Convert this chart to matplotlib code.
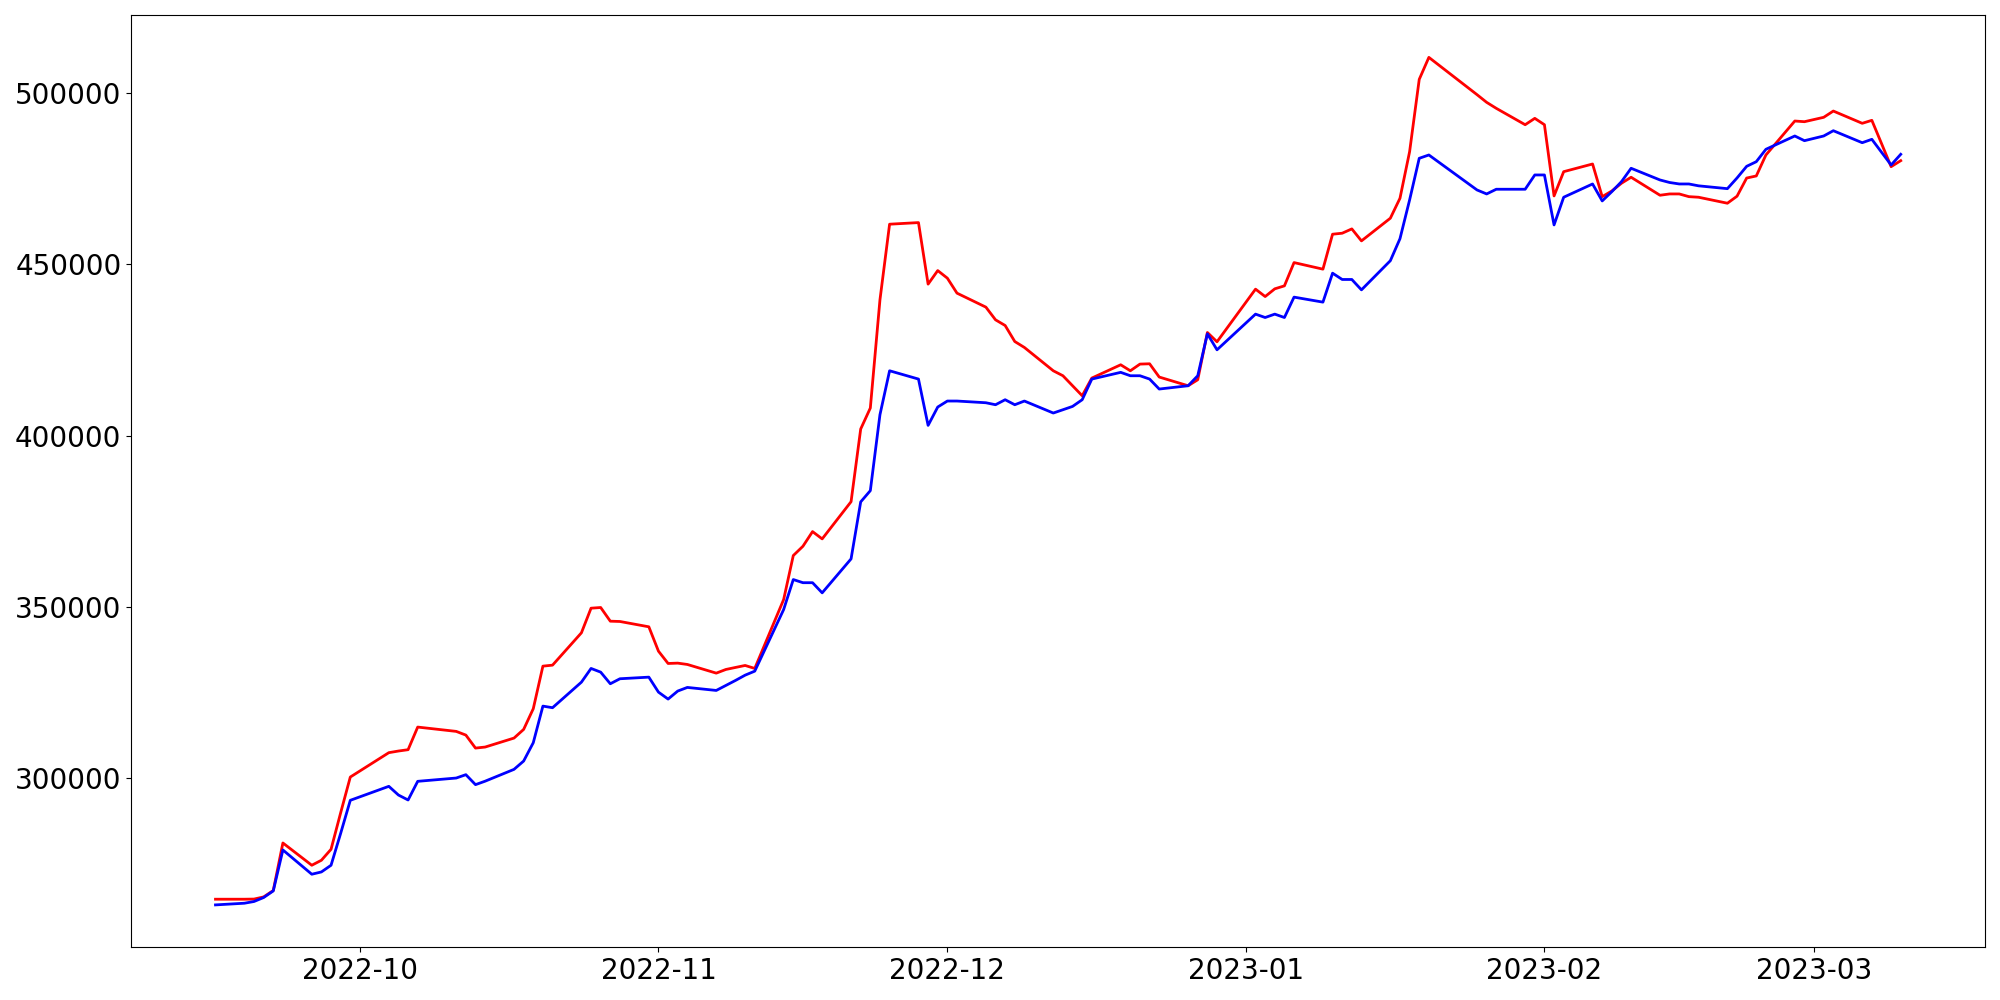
import matplotlib
matplotlib.use('Agg')
import matplotlib.pyplot as plt
import pandas as pd

# trading days (KRX calendar), Sep 2022 - Mar 2023
days_sep = ['2022-09-16', '2022-09-19', '2022-09-20', '2022-09-21', '2022-09-22', '2022-09-23',
            '2022-09-26', '2022-09-27', '2022-09-28', '2022-09-29', '2022-09-30']
days_oct = ['2022-10-04', '2022-10-05', '2022-10-06', '2022-10-07', '2022-10-11', '2022-10-12',
            '2022-10-13', '2022-10-14', '2022-10-17', '2022-10-18', '2022-10-19', '2022-10-20',
            '2022-10-21', '2022-10-24', '2022-10-25', '2022-10-26', '2022-10-27', '2022-10-28',
            '2022-10-31']
days_nov = ['2022-11-01', '2022-11-02', '2022-11-03', '2022-11-04', '2022-11-07', '2022-11-08',
            '2022-11-09', '2022-11-10', '2022-11-11', '2022-11-14', '2022-11-15', '2022-11-16',
            '2022-11-17', '2022-11-18', '2022-11-21', '2022-11-22', '2022-11-23', '2022-11-24',
            '2022-11-25', '2022-11-28', '2022-11-29', '2022-11-30']
days_dec = ['2022-12-01', '2022-12-02', '2022-12-05', '2022-12-06', '2022-12-07', '2022-12-08',
            '2022-12-09', '2022-12-12', '2022-12-13', '2022-12-14', '2022-12-15', '2022-12-16',
            '2022-12-19', '2022-12-20', '2022-12-21', '2022-12-22', '2022-12-23', '2022-12-26',
            '2022-12-27', '2022-12-28', '2022-12-29']
days_jan = ['2023-01-02', '2023-01-03', '2023-01-04', '2023-01-05', '2023-01-06', '2023-01-09',
            '2023-01-10', '2023-01-11', '2023-01-12', '2023-01-13', '2023-01-16', '2023-01-17',
            '2023-01-18', '2023-01-19', '2023-01-20', '2023-01-25', '2023-01-26', '2023-01-27',
            '2023-01-30', '2023-01-31']
days_feb = ['2023-02-01', '2023-02-02', '2023-02-03', '2023-02-06', '2023-02-07', '2023-02-08',
            '2023-02-09', '2023-02-10', '2023-02-13', '2023-02-14', '2023-02-15', '2023-02-16',
            '2023-02-17', '2023-02-20', '2023-02-21', '2023-02-22', '2023-02-23', '2023-02-24',
            '2023-02-27', '2023-02-28']
days_mar = ['2023-03-02', '2023-03-03', '2023-03-06', '2023-03-07', '2023-03-08', '2023-03-09',
            '2023-03-10']

red_vals = [
    264760, 264760, 264800, 265430, 267300, 281170, 274670, 276130, 279330, 290000, 300410,
    307520, 308000, 308390, 314990, 313730, 312650, 308860, 309160, 311780, 314310, 320350,
    332770, 333060, 342500, 349680, 349880, 345890, 345800, 344250,
    337140, 333550, 333650, 333260, 330730, 331800, 332390, 332970, 332100, 352210, 365040,
    367750, 372030, 369900, 380760, 401970, 408090, 439660, 461730, 462200, 444240, 448200,
    445980, 441610, 437530, 433830, 432170, 427500, 425760, 418960, 417510, 414590, 411680,
    416830, 420710, 418960, 420910, 421000, 417130, 414590, 416340, 430130, 427420,
    442780, 440620, 442870, 443740, 450530, 448610, 458810, 459100, 460360, 456860, 463480,
    469300, 482890, 503990, 510410, 499530, 497290, 495540, 490760, 492620,
    490760, 469980, 477060, 479300, 469770, 471430, 473680, 475430, 470180, 470560, 470560,
    469770, 469600, 467850, 469900, 475200, 475810, 481930, 491840, 491640,
    492920, 494750, 491170, 492040, 485300, 478520, 480270,
]

blue_vals = [
    263100, 263590, 264090, 265250, 267180, 279130, 272050, 272720, 274670, 284000, 293620,
    297700, 295160, 293710, 299160, 300120, 301100, 298190, 299200, 302650, 305080, 310430,
    321110, 320640, 328100, 332100, 331020, 327630, 329090, 329560,
    325190, 323160, 325500, 326560, 325680, 327140, 328600, 330140, 331310, 349290, 358040,
    357120, 357120, 354160, 364070, 380700, 383980, 406140, 418960, 416540, 403020, 408380,
    410130, 410130, 409630, 409050, 410510, 409050, 410130, 406630, 407590, 408560, 410510,
    416540, 418500, 417510, 417510, 416540, 413630, 414590, 417510, 429750, 425080,
    435490, 434500, 435490, 434500, 440450, 438990, 447440, 445600, 445600, 442570, 451080,
    457500, 468810, 480960, 481930, 471720, 470560, 471930, 471930, 476100,
    476100, 461520, 469600, 473470, 468520, 471230, 474140, 478050, 474640, 473900, 473470,
    473470, 472930, 472100, 475220, 478620, 479970, 483590, 487470, 486100,
    487470, 489010, 485510, 486500, 482750, 479010, 482130,
]

dates = pd.to_datetime(days_sep + days_oct + days_nov + days_dec + days_jan + days_feb + days_mar)

fig, ax = plt.subplots(figsize=(20, 10), dpi=100)
ax.plot(dates, red_vals, color='red', linewidth=2)
ax.plot(dates, blue_vals, color='blue', linewidth=2)
ax.tick_params(labelsize=20)

plt.tight_layout()
plt.savefig('out.png')
